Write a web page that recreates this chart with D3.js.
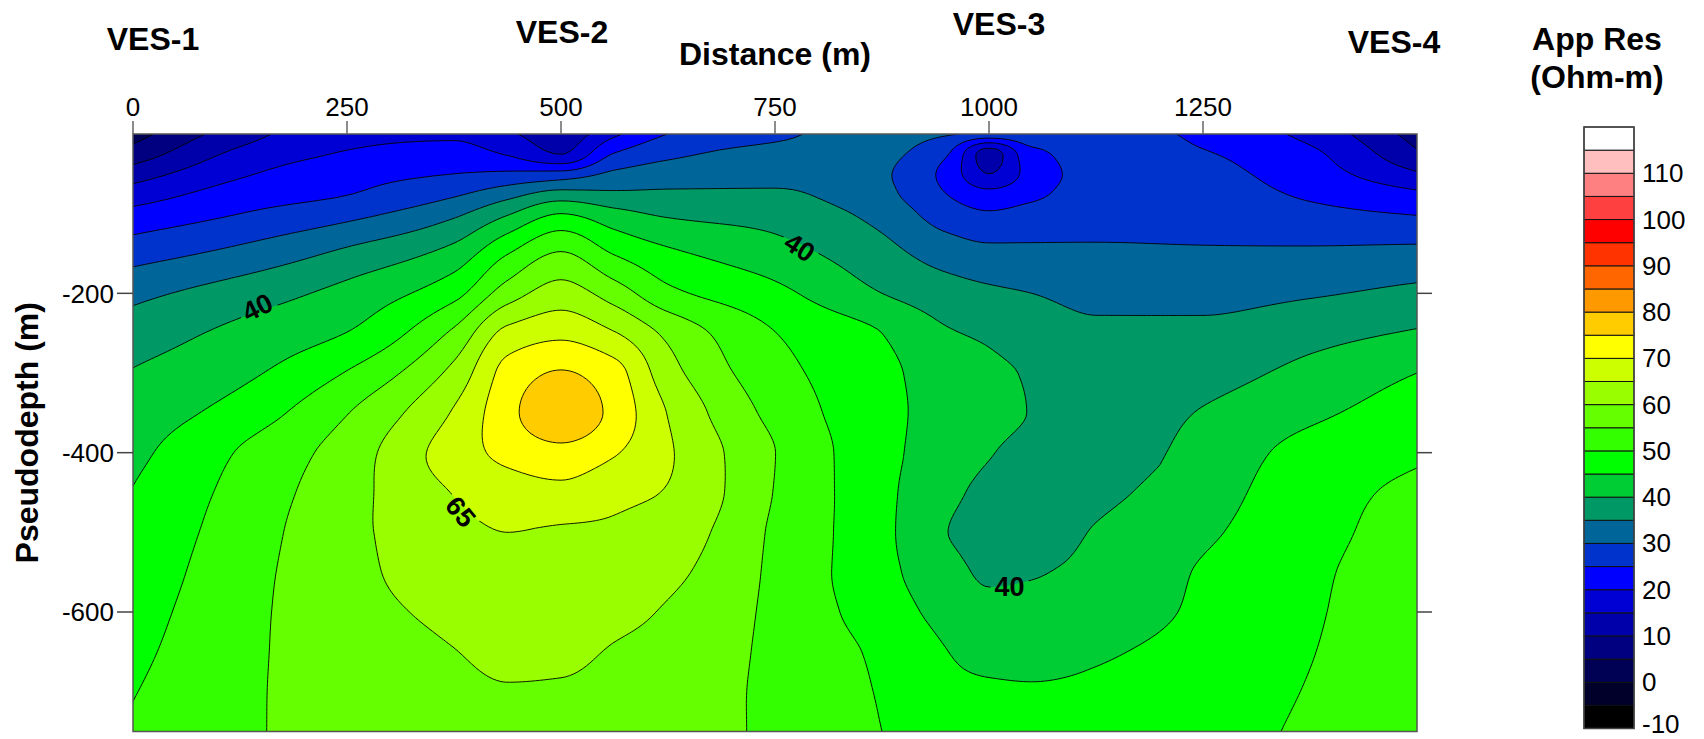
<!DOCTYPE html>
<html>
<head>
<meta charset="utf-8">
<script src="https://cdn.jsdelivr.net/npm/d3@7/dist/d3.min.js"></script>
<style>
  body { margin: 0; background: #fff; }
  svg { display: block; }
  text { font-family: "Liberation Sans", Arial, Helvetica, sans-serif; fill: #000; }
</style>
</head>
<body>
<svg id="chart" width="1704" height="739"></svg>
<script>
// ---- Survey data -------------------------------------------------------
// Sounding stations along the profile
const stations = ["VES-1", "VES-2", "VES-3", "VES-4"];
const stationDistance = [0, 500, 1000, 1500];

// Gridded apparent resistivity: distance columns (m) and pseudodepth rows (m)
const distances = [0, 125, 250, 375, 437.5, 500, 562.5, 625, 750, 875, 950, 1000, 1050, 1125, 1250, 1375, 1500];
const depths = [0, -25, -50, -75, -100, -150, -200, -250, -300, -350, -400, -450, -500, -550, -600, -650, -700, -750];

// Apparent resistivity (Ohm-m) down each column, top to bottom
const res0000 = [3, 7.1, 12.6, 17.3, 21.4, 27.9, 33.7, 37.4, 40.3, 42.1, 43.7, 45.2, 46.1, 47, 48, 48.9, 49.8, 50.6];
const res0125 = [12.8, 16.2, 19.3, 22.2, 25, 31.4, 37.4, 41.3, 43.9, 47, 50.4, 51.6, 52.4, 53, 53.4, 53.7, 54, 54.2];
const res0250 = [18.5, 20.4, 23.2, 24.8, 28.4, 36.1, 41.6, 45.1, 50.3, 54.8, 57.3, 58.2, 58.6, 58.6, 58.4, 58, 57.5, 57];
const res0375 = [19, 22, 25, 29.2, 34, 41.9, 48.4, 56, 61.5, 65.5, 67.5, 65.2, 63.6, 62.4, 61, 59.9, 59, 58.2];
const res0438 = [15.8, 19.6, 25.9, 33, 39.5, 49.8, 57.5, 66.5, 71.8, 73.4, 71.3, 67.6, 65, 63.6, 62.3, 61, 59.7, 58.5];
const res0500 = [12, 14.9, 26.8, 36.8, 45, 55.4, 62.2, 68.8, 75.4, 79.2, 73.4, 68.6, 64.5, 63.4, 62.2, 60.9, 59.5, 58];
const res0563 = [19, 25.3, 31, 35.8, 41.5, 49.7, 57.6, 65.3, 71.8, 73.4, 70.4, 66.3, 64.2, 62.6, 61.1, 59.7, 58.8, 58.1];
const res0625 = [25, 28.9, 32.4, 35.8, 39.3, 46, 51.3, 58.9, 62, 64.8, 65.6, 64.7, 62.8, 61.1, 59.6, 58.8, 58.2, 57.8];
const res0750 = [29, 31.4, 33.5, 35.6, 37.9, 42, 46.3, 50.1, 51.8, 53.5, 55.05, 54.8, 54.2, 54, 53.9, 53.8, 53.7, 53.8];
const res0875 = [32, 31, 30.6, 31.3, 33.3, 36.7, 40, 45, 46.2, 46.4, 46.4, 46.3, 46.3, 46.4, 47.4, 49, 49.6, 50];
const res0950 = [30.5, 25.5, 23.5, 25, 27.5, 32.8, 37.2, 40.5, 42.7, 43.2, 42.6, 41.2, 40.1, 41.9, 43.5, 45.1, 45.9, 46.6];
const res1000 = [29, 12.5, 15, 21.5, 25.5, 31.4, 35.9, 39.2, 41, 41.5, 40.3, 38.8, 38.3, 39.3, 41.5, 43.7, 45.6, 46.8];
const res1050 = [29, 23.5, 22, 23.8, 26.8, 31.1, 35, 37.5, 39.5, 39.8, 38.5, 37.3, 37.5, 39.6, 41.6, 43.5, 45.4, 46.5];
const res1125 = [27.5, 26.7, 26.6, 27.3, 28.4, 30.7, 33.7, 35.8, 36.8, 37.3, 37.8, 38.8, 40.4, 41.8, 43, 44.5, 45.8, 47];
const res1250 = [24, 25.3, 26.2, 27.1, 28.3, 30.5, 33.5, 36.1, 38.2, 40.3, 41.7, 42.9, 44.2, 45.4, 45.7, 46.4, 47.1, 47.8];
const res1375 = [18.5, 21, 22.3, 24.2, 26.3, 30.8, 34.5, 38.3, 41.4, 44, 46.7, 47.9, 48.4, 49.1, 49.4, 49.8, 50.3, 50.9];
const res1500 = [8, 10.8, 15.6, 20.9, 24.7, 31.4, 36.2, 40.5, 45, 47.5, 49.2, 51.2, 52.2, 52.8, 53.2, 53.4, 53.5, 53.5];

const columns = [res0000, res0125, res0250, res0375, res0438, res0500, res0563, res0625, res0750,
                 res0875, res0950, res1000, res1050, res1125, res1250, res1375, res1500];

// Contour levels (lower bound of each colour band) and their fills
const levels = [-10, -5, 0, 5, 10, 15, 20, 25, 30, 35, 40, 45, 50, 55, 60, 65, 70, 75, 80, 85, 90, 95, 100, 105, 110, 115];
const bandColors = ["#000000", "#00002a", "#000055", "#000080", "#0000aa", "#0000d5", "#0000ff", "#0033cc",
                    "#006699", "#009966", "#00cc33", "#00ff00", "#33ff00", "#66ff00", "#99ff00", "#ccff00",
                    "#ffff00", "#ffcc00", "#ff9900", "#ff6600", "#ff3300", "#ff0000", "#ff4040", "#ff8080",
                    "#ffbfbf", "#ffffff"];
const legendMax = 120;
const legendLabels = [-10, 0, 10, 20, 30, 40, 50, 60, 70, 80, 90, 100, 110];

// Axis ticks
const xTicks = [0, 250, 500, 750, 1000, 1250];
const yTicks = [-200, -400, -600];

// Labelled contour lines
const lineLabelLevels = [40, 40, 65, 40];

// ---- Layout ------------------------------------------------------------
const plot = { left: 133, right: 1417, top: 134, bottom: 731.5 };
const stationLabelLayout = [ { dx: 20, y: 50 }, { dx: 1, y: 43 }, { dx: 10, y: 35 }, { dx: -23, y: 53 } ];
const lineLabelLayout = [
  { x: 145, d: -217, angle: -26 },
  { x: 779, d: -142, angle: 33 },
  { x: 383, d: -474, angle: 50 },
  { x: 1024, d: -568, angle: 0 }
];
const bar = { x: 1584, width: 50, top: 127, bottom: 728.5 };

const svg = d3.select("#chart");
const x = d3.scaleLinear().domain([0, 1500]).range([plot.left, plot.right]);
const y = d3.scaleLinear().domain([0, -750]).range([plot.top, plot.bottom]);

// ---- Resample the grid with monotone cubic splines ----------------------
function monotone(xs, ys) {
  const n = xs.length, h = [], s = [], m = new Array(n);
  for (let i = 0; i < n - 1; i++) { h[i] = xs[i + 1] - xs[i]; s[i] = (ys[i + 1] - ys[i]) / h[i]; }
  m[0] = s[0]; m[n - 1] = s[n - 2];
  for (let i = 1; i < n - 1; i++) {
    if (s[i - 1] * s[i] <= 0) m[i] = 0;
    else {
      const w1 = 2 * h[i] + h[i - 1], w2 = h[i] + 2 * h[i - 1];
      m[i] = (w1 + w2) / (w1 / s[i - 1] + w2 / s[i]);
    }
  }
  return function (v) {
    let i = d3.bisectRight(xs, v) - 1;
    i = Math.max(0, Math.min(n - 2, i));
    const t = (v - xs[i]) / h[i], t2 = t * t, t3 = t2 * t;
    return (2 * t3 - 3 * t2 + 1) * ys[i] + (t3 - 2 * t2 + t) * h[i] * m[i]
         + (-2 * t3 + 3 * t2) * ys[i + 1] + (t3 - t2) * h[i] * m[i + 1];
  };
}

const depthDown = depths.map(d => -d);
const step = 5, nx = 301, ny = 151;
const colFns = columns.map(c => monotone(depthDown, c));
const values = new Float64Array(nx * ny);
for (let j = 0; j < ny; j++) {
  const rowVals = colFns.map(f => f(j * step));
  const rowFn = monotone(distances, rowVals);
  for (let i = 0; i < nx; i++) values[j * nx + i] = rowFn(i * step);
}

const contours = d3.contours().size([nx, ny]).thresholds(levels)(values);
const projection = d3.geoTransform({
  point(px, py) { this.stream.point(x((px - 0.5) * step), y(-(py - 0.5) * step)); }
});
const path = d3.geoPath(projection);
const minVal = d3.min(values);

const defs = svg.append("defs");
defs.append("clipPath").attr("id", "plotClip")
  .append("rect").attr("x", plot.left).attr("y", plot.top)
  .attr("width", plot.right - plot.left).attr("height", plot.bottom - plot.top);

// mask that breaks contour lines under their labels
const mask = defs.append("mask").attr("id", "labelGaps").attr("maskUnits", "userSpaceOnUse")
  .attr("x", 0).attr("y", 0).attr("width", 1704).attr("height", 739);
mask.append("rect").attr("width", 1704).attr("height", 739).attr("fill", "#fff");
lineLabelLayout.forEach(l => {
  mask.append("rect")
    .attr("x", -19).attr("y", -13).attr("width", 38).attr("height", 26)
    .attr("fill", "#000")
    .attr("transform", `translate(${x(l.x)},${y(l.d)}) rotate(${l.angle})`);
});

const field = svg.append("g").attr("clip-path", "url(#plotClip)");
field.append("g").selectAll("path")
  .data(contours)
  .join("path")
  .attr("d", path)
  .attr("fill", (c, i) => bandColors[i]);

field.append("g").attr("mask", "url(#labelGaps)").selectAll("path")
  .data(contours.filter(c => c.value > minVal))
  .join("path")
  .attr("d", path)
  .attr("fill", "none")
  .attr("stroke", "#000")
  .attr("stroke-width", 0.9);

// contour labels
svg.append("g").selectAll("text")
  .data(lineLabelLevels)
  .join("text")
  .attr("transform", (v, i) => `translate(${x(lineLabelLayout[i].x)},${y(lineLabelLayout[i].d)}) rotate(${lineLabelLayout[i].angle})`)
  .attr("text-anchor", "middle")
  .attr("dy", "0.36em")
  .style("font-size", "27px")
  .style("font-weight", "bold")
  .text(v => v);

// ---- Frame and axes ----------------------------------------------------
svg.append("rect")
  .attr("x", plot.left).attr("y", plot.top)
  .attr("width", plot.right - plot.left).attr("height", plot.bottom - plot.top)
  .attr("fill", "none").attr("stroke", "#555").attr("stroke-width", 1.5);

const topAxis = svg.append("g");
topAxis.selectAll("line").data(xTicks).join("line")
  .attr("x1", d => x(d)).attr("x2", d => x(d))
  .attr("y1", plot.top - 13).attr("y2", plot.top)
  .attr("stroke", "#666").attr("stroke-width", 1.5);
topAxis.selectAll("text").data(xTicks).join("text")
  .attr("x", d => x(d)).attr("y", 116)
  .attr("text-anchor", "middle")
  .style("font-size", "26px")
  .text(d => d);

const leftAxis = svg.append("g");
leftAxis.selectAll("line").data(yTicks).join("line")
  .attr("x1", plot.left - 16).attr("x2", plot.left)
  .attr("y1", d => y(d)).attr("y2", d => y(d))
  .attr("stroke", "#444").attr("stroke-width", 1.5);
leftAxis.selectAll("text").data(yTicks).join("text")
  .attr("x", plot.left - 19).attr("y", d => y(d))
  .attr("dy", "0.36em")
  .attr("text-anchor", "end")
  .style("font-size", "26px")
  .text(d => d);

svg.append("g").selectAll("line").data(yTicks).join("line")
  .attr("x1", plot.right).attr("x2", plot.right + 15)
  .attr("y1", d => y(d)).attr("y2", d => y(d))
  .attr("stroke", "#444").attr("stroke-width", 1.5);

// axis titles
svg.append("text")
  .attr("x", (plot.left + plot.right) / 2).attr("y", 65)
  .attr("text-anchor", "middle")
  .style("font-size", "32px").style("font-weight", "bold")
  .text("Distance (m)");

svg.append("text")
  .attr("transform", `translate(38,${(plot.top + plot.bottom) / 2}) rotate(-90)`)
  .attr("text-anchor", "middle")
  .style("font-size", "32px").style("font-weight", "bold")
  .text("Pseudodepth (m)");

// station labels
svg.append("g").selectAll("text").data(stations).join("text")
  .attr("x", (s, i) => x(stationDistance[i]) + stationLabelLayout[i].dx)
  .attr("y", (s, i) => stationLabelLayout[i].y)
  .attr("text-anchor", "middle")
  .style("font-size", "32px").style("font-weight", "bold")
  .text(s => s);

// ---- Colour scale ------------------------------------------------------
const ly = d3.scaleLinear().domain([levels[0], legendMax]).range([bar.bottom, bar.top]);
const legend = svg.append("g");
legend.selectAll("rect").data(levels).join("rect")
  .attr("x", bar.x)
  .attr("y", (v, i) => ly(i < levels.length - 1 ? levels[i + 1] : legendMax))
  .attr("width", bar.width)
  .attr("height", (v, i) => ly(v) - ly(i < levels.length - 1 ? levels[i + 1] : legendMax))
  .attr("fill", (v, i) => bandColors[i])
  .attr("stroke", "#111").attr("stroke-width", 1);
legend.append("rect")
  .attr("x", bar.x).attr("y", bar.top)
  .attr("width", bar.width).attr("height", bar.bottom - bar.top)
  .attr("fill", "none").attr("stroke", "#444").attr("stroke-width", 1.5);
legend.selectAll("text").data(legendLabels).join("text")
  .attr("x", bar.x + bar.width + 8)
  .attr("y", d => Math.min(ly(d) + 9, 733))
  .style("font-size", "26px")
  .text(d => d);

svg.append("text")
  .attr("x", 1597).attr("y", 50)
  .attr("text-anchor", "middle")
  .style("font-size", "32px").style("font-weight", "bold")
  .text("App Res");
svg.append("text")
  .attr("x", 1597).attr("y", 88)
  .attr("text-anchor", "middle")
  .style("font-size", "32px").style("font-weight", "bold")
  .text("(Ohm-m)");
</script>
</body>
</html>
